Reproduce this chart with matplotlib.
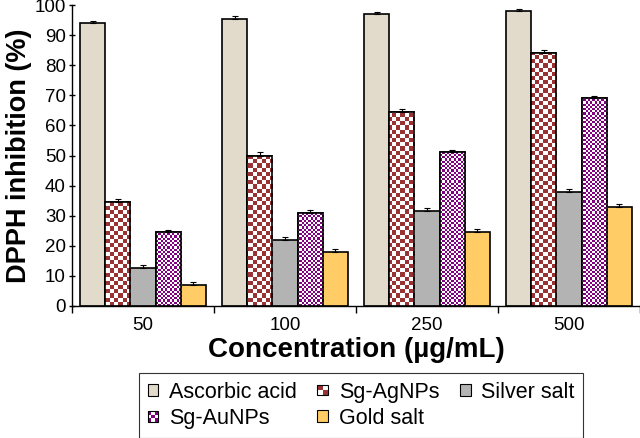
import matplotlib.pyplot as plt
import numpy as np
from matplotlib.colors import ListedColormap
from matplotlib.legend_handler import HandlerBase
from matplotlib.patches import Rectangle

plt.rcParams['font.family'] = ['Liberation Sans', 'DejaVu Sans']

# Dados do gráfico
concentracoes = ['50', '100', '250', '500']
series = ['Ascorbic acid', 'Sg-AgNPs', 'Silver salt', 'Sg-AuNPs', 'Gold salt']
ascorbico = [94, 95.5, 97, 98]
sg_ag = [34.5, 50, 64.5, 84]
sal_prata = [12.5, 22, 31.5, 38]
sg_au = [24.5, 31, 51, 69]
sal_ouro = [7, 18, 24.5, 33]
erros = [
    [0.8, 0.8, 0.8, 0.8],
    [1.0, 1.0, 1.0, 1.0],
    [1.0, 1.0, 1.0, 1.0],
    [0.8, 0.8, 0.8, 0.8],
    [1.0, 1.0, 1.0, 1.0],
]
valores = [ascorbico, sg_ag, sal_prata, sg_au, sal_ouro]

cores = ['#e2dbcb', 'white', '#b3b3b3', 'white', '#ffcc66']
# séries com textura xadrez: (cor, tamanho da célula em px, células na legenda)
xadrez = {1: ('#993333', 4.2, 2), 3: ('#800080', 2.2, 3)}


class HandlerXadrez(HandlerBase):
    def __init__(self, cor, n):
        super().__init__()
        self.cor = cor
        self.n = n

    def create_artists(self, legend, orig_handle, xdescent, ydescent,
                       width, height, fontsize, trans):
        lado = min(width, height)
        x0 = -xdescent + (width - lado) / 2
        y0 = -ydescent + (height - lado) / 2
        d = lado / self.n
        artistas = [Rectangle((x0, y0), lado, lado, facecolor='white',
                              edgecolor='none', transform=trans)]
        for r in range(self.n):
            for c in range(self.n):
                if (r + c) % 2 == 0:
                    artistas.append(Rectangle((x0 + c * d, y0 + (self.n - 1 - r) * d), d, d,
                                              facecolor=self.cor, edgecolor='none',
                                              transform=trans))
        artistas.append(Rectangle((x0, y0), lado, lado, fill=False, edgecolor='black',
                                  linewidth=0.8, transform=trans))
        return artistas


fig = plt.figure(figsize=(6.4, 4.38), dpi=100)
ax = fig.add_axes([72 / 640, 132 / 438, 568 / 640, 301 / 438])

x = np.arange(len(concentracoes))
largura = 0.177
barras = []
for i, (nome, vals) in enumerate(zip(series, valores)):
    pos = x + (i - 2) * largura
    b = ax.bar(pos, vals, largura, color=cores[i], edgecolor='black',
               linewidth=1.2, label=nome, zorder=2)
    ax.errorbar(pos, vals, yerr=[np.zeros(4), erros[i]], fmt='none',
                ecolor='black', elinewidth=0.8, capsize=2.5, capthick=0.8, zorder=4)
    barras.append(b)

ax.set_xlim(-0.5, 3.5)
ax.set_ylim(0, 100)

# Textura xadrez recortada em cada barra
larg_px, alt_px = 568, 301
for i, (cor, cel, _) in xadrez.items():
    nx = int(round(larg_px / cel))
    ny = int(round(alt_px / cel))
    tab = (np.add.outer(np.arange(ny), np.arange(nx)) % 2).astype(float)
    cmap = ListedColormap(['white', cor])
    for ret in barras[i].patches:
        im = ax.imshow(tab, cmap=cmap, extent=[-0.5, 3.5, 0, 100], aspect='auto',
                       interpolation='nearest', origin='lower', zorder=2.5)
        im.set_clip_path(ret)
        ax.add_patch(Rectangle(ret.get_xy(), ret.get_width(), ret.get_height(),
                               fill=False, edgecolor='black', linewidth=1.2, zorder=3))
ax.set_xlim(-0.5, 3.5)
ax.set_ylim(0, 100)

ax.set_xticks(np.arange(-0.5, 4.0, 1.0))
ax.set_xticklabels([])
ax.set_xticks(x, minor=True)
ax.set_xticklabels(concentracoes, minor=True, fontsize=13.5)
ax.tick_params(axis='x', which='minor', length=0, pad=8)
ax.tick_params(axis='x', which='major', length=5, width=1, direction='out')
ax.set_yticks(np.arange(0, 101, 10))
ax.tick_params(axis='y', length=5, width=1, direction='inout', labelsize=13.5, pad=2)

ax.spines['top'].set_visible(False)
ax.spines['right'].set_visible(False)
ax.spines['left'].set_linewidth(1)
ax.spines['bottom'].set_linewidth(1)

ax.set_xlabel('Concentration (µg/mL)', fontsize=20, fontweight='bold', labelpad=2)
ax.set_ylabel('DPPH inhibition (%)', fontsize=19.5, fontweight='bold', labelpad=2)

h, l = ax.get_legend_handles_labels()
ordem = [0, 3, 1, 4, 2]
mapa = {h[k]: HandlerXadrez(xadrez[k][0], xadrez[k][2]) for k in xadrez}
leg = fig.legend([h[k] for k in ordem], [l[k] for k in ordem], ncol=3,
                 loc='upper left', bbox_to_anchor=(139 / 640, 1 - 373 / 438),
                 borderaxespad=0, handler_map=mapa,
                 fontsize=15.5, frameon=True, fancybox=False, edgecolor='black',
                 handlelength=0.5, handleheight=0.5, handletextpad=0.5,
                 columnspacing=0.95, borderpad=0.4, labelspacing=0.25)
leg.get_frame().set_linewidth(0.8)
for p in leg.get_patches():
    p.set_linewidth(0.8)

fig.savefig('out.png', dpi=100)
